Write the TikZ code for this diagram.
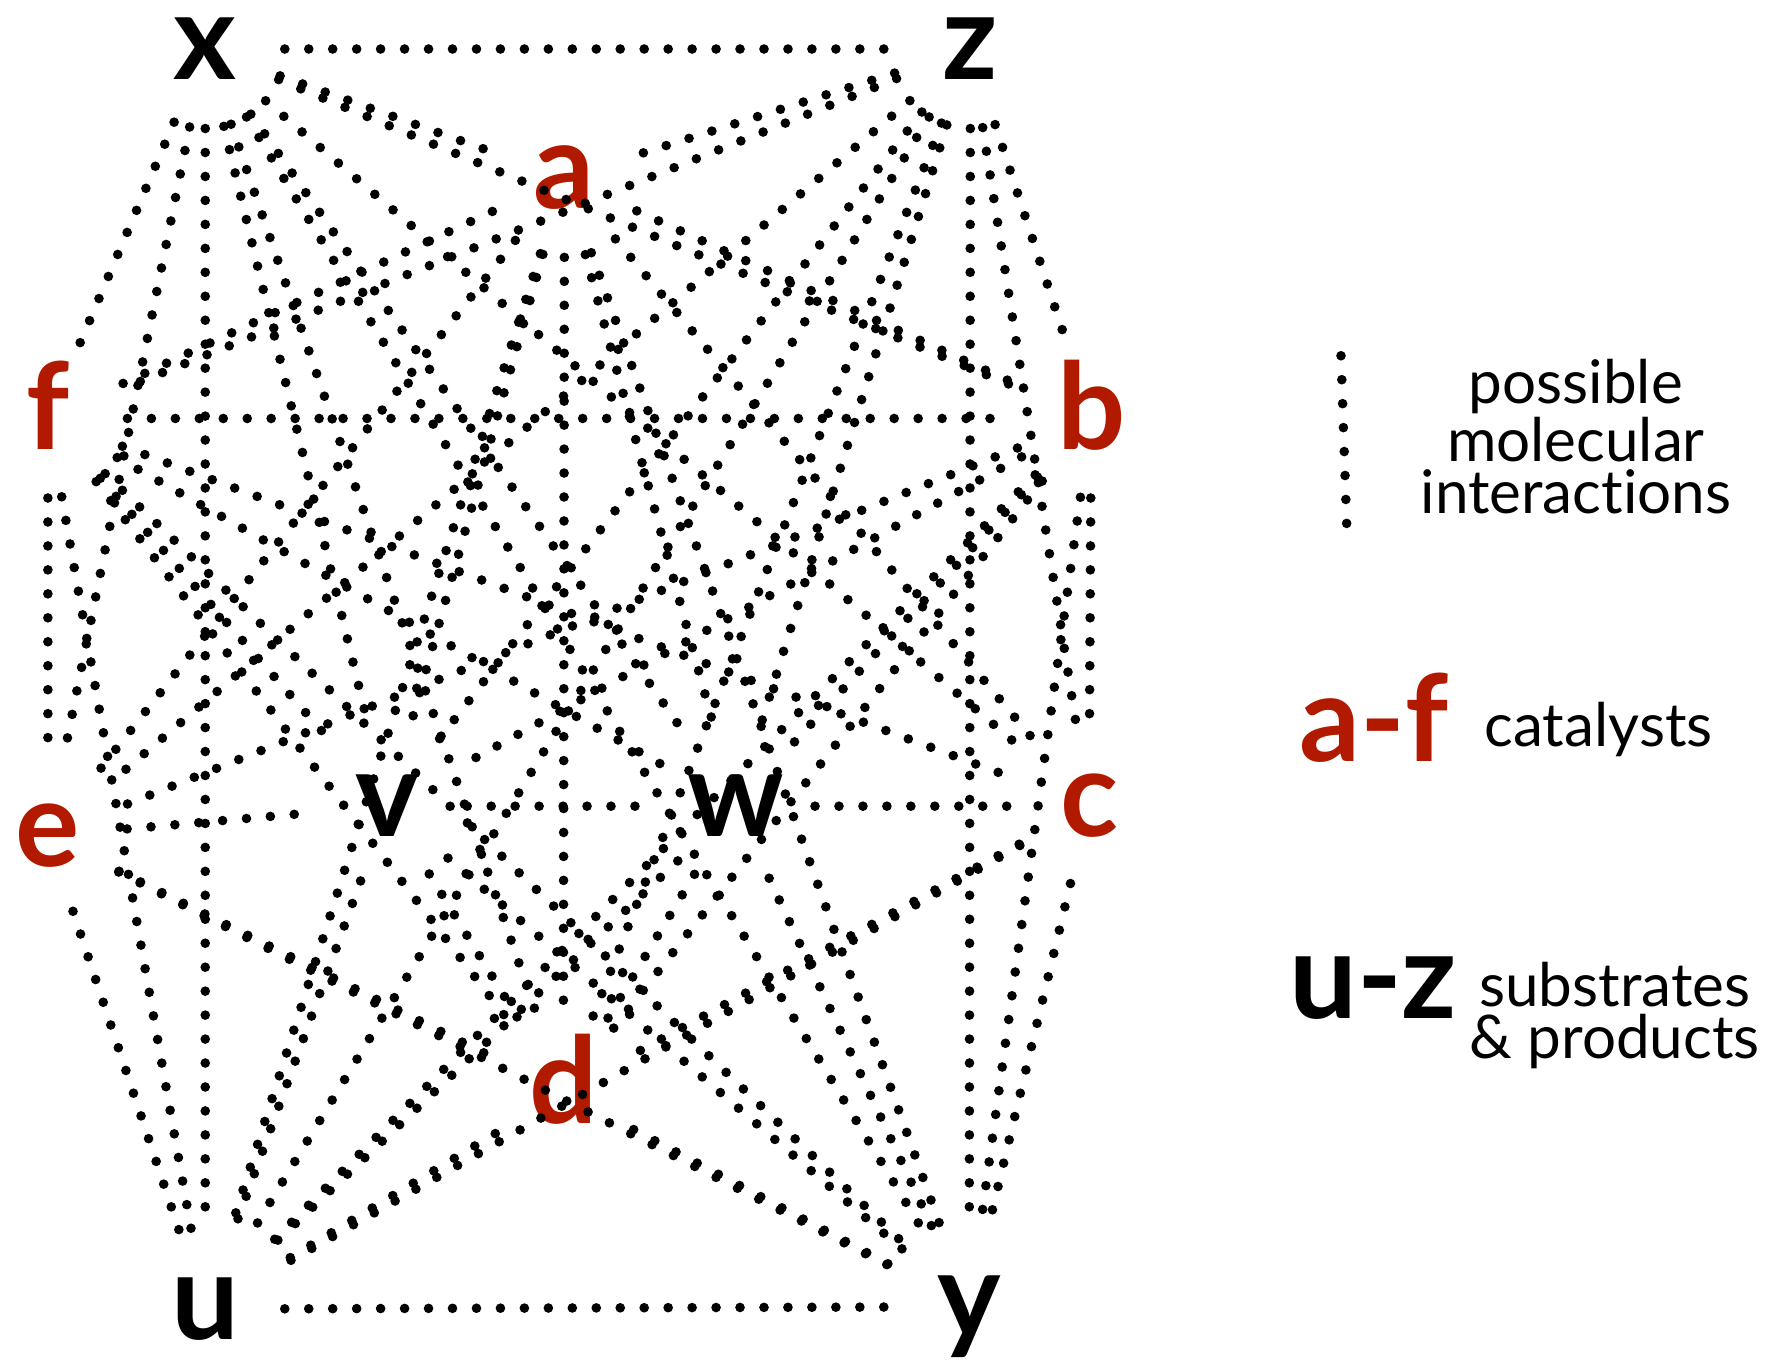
\documentclass[tikz,border=0pt]{standalone}
\usepackage{fontspec}
\setmainfont{Lato}[Ligatures=NoCommon]
\definecolor{catred}{RGB}{178,26,0}
\tikzset{
  species/.style={circle, inner sep=0pt, minimum size=1.38cm,
    text height=0.54cm, text depth=0pt,
    font=\fontsize{30}{30}\selectfont\bfseries},
  catalyst/.style={species, text=catred},
  interaction/.style={line width=2.4pt, line cap=round,
    dash pattern=on 0pt off 0.21cm},
  keytext/.style={font=\fontsize{15}{12.8}\selectfont, align=center, anchor=base, inner sep=0pt},
}
\begin{document}
\begin{tikzpicture}[x=0.01cm, y=-0.01cm]
  \useasboundingbox (0,0) rectangle (1568,1195);
  % substrates and products
  \node[species]  (x) at (180,43)   {x};
  \node[species]  (z) at (851,43)   {z};
  \node[species]  (v) at (340,707)  {v};
  \node[species]  (w) at (645,707)  {w};
  \node[species]  (u) at (180,1148) {u};
  \node[species]  (y) at (850,1146) {y};
  % catalysts
  \node[catalyst] (a) at (495,156)  {a};
  \node[catalyst] (f) at (42,367)   {f};
  \node[catalyst] (b) at (957,367)  {b};
  \node[catalyst] (e) at (42,733)   {e};
  \node[catalyst] (c) at (955,707)  {c};
  \node[catalyst] (d) at (494,958)  {d};
  % every pair may interact (e, v, w, c share one row)
  \foreach \s/\others in {
      x/{z,a,f,b,e,v,w,c,d,u,y},
      z/{a,f,b,e,v,w,c,d,u,y},
      a/{f,b,e,v,w,c,d,u,y},
      f/{b,e,v,w,c,d,u,y},
      b/{e,v,w,c,d,u,y},
      e/{v,d,u,y},
      v/{w,d,u,y},
      w/{c,d,u,y},
      c/{d,u,y},
      d/{u,y},
      u/{y}}
    \foreach \t in \others
      \draw[interaction] (\s) -- (\t);
  % key
  \coordinate (key top) at (1176,312);
  \coordinate (key bot) at (1181,460);
  \draw[interaction] (key top) -- (key bot);
  \node[keytext] (ints) at (1382,450) {possible\\molecular\\interactions};
  \node[catalyst] (catkey) at (1205,641) {a-f};
  \node[keytext] (cats) at (1402,655) {catalysts};
  \node[species] (subkey) at (1204,866) {u-z};
  \node[keytext] (subs) at (1416,928) {substrates\\\& products};
\end{tikzpicture}
\end{document}
